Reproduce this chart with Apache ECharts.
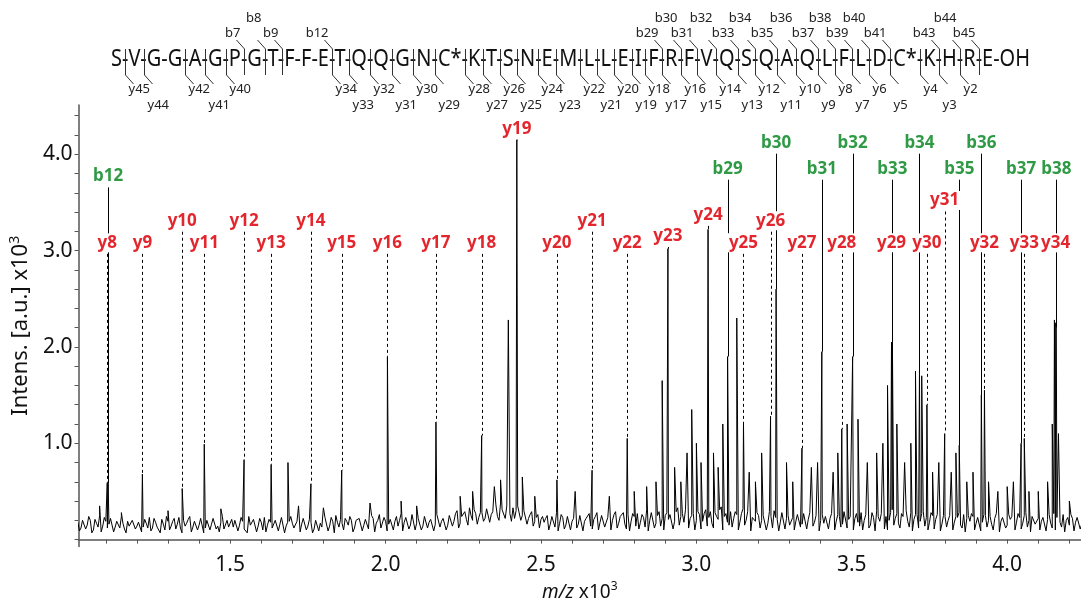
<!DOCTYPE html>
<html><head><meta charset="utf-8">
<script src="https://cdn.jsdelivr.net/npm/echarts@6/dist/echarts.min.js"></script>
<style>html,body{margin:0;padding:0;background:#fff}#c{width:1081px;height:607px}</style>
</head><body><div id="c"></div>
<script>
// ---------------- DATA ----------------
// baseline noise, sampled every 0.01 (m/z x10^3) starting at 1.01
const noiseStartMz = 1.01;
const noiseStepMz = 0.01;
const noiseIntensity = [
0.18,0.12,0.22,0.15,0.20,0.10,0.17,0.25,0.14,0.19,
0.16,0.21,0.13,0.18,0.24,0.11,0.19,0.15,0.22,0.14,
0.20,0.13,0.17,0.23,0.12,0.18,0.15,0.21,0.10,0.19,
0.14,0.22,0.16,0.12,0.20,0.17,0.24,0.13,0.18,0.15,
0.21,0.12,0.19,0.16,0.23,0.14,0.18,0.11,0.20,0.17,
0.13,0.22,0.15,0.19,0.12,0.24,0.16,0.20,0.14,0.18,
0.23,0.15,0.18,0.12,0.21,0.16,0.25,0.14,0.19,0.17,
0.12,0.20,0.16,0.23,0.14,0.18,0.11,0.22,0.17,0.15,
0.21,0.14,0.19,0.25,0.13,0.17,0.22,0.15,0.20,0.12,
0.18,0.24,0.15,0.20,0.13,0.22,0.17,0.26,0.14,0.19,
0.16,0.23,0.19,0.14,0.27,0.18,0.21,0.15,0.24,0.17,
0.20,0.14,0.25,0.18,0.22,0.16,0.28,0.19,0.23,0.15,
0.24,0.19,0.30,0.17,0.26,0.21,0.33,0.20,0.27,0.23,
0.28,0.22,0.34,0.26,0.31,0.24,0.38,0.29,0.35,0.27,
0.33,0.30,0.36,0.25,0.32,0.22,0.29,0.19,0.26,0.21,
0.18,0.25,0.16,0.22,0.28,0.17,0.23,0.15,0.26,0.19,
0.22,0.16,0.27,0.19,0.24,0.14,0.21,0.28,0.18,0.23,
0.15,0.25,0.20,0.29,0.17,0.22,0.16,0.26,0.19,0.24,
0.27,0.18,0.23,0.31,0.20,0.26,0.17,0.29,0.22,0.25,
0.21,0.28,0.19,0.33,0.24,0.18,0.30,0.22,0.27,0.20,
0.26,0.19,0.31,0.23,0.17,0.28,0.21,0.34,0.24,0.18,
0.29,0.22,0.26,0.18,0.32,0.20,0.27,0.23,0.19,0.25,
0.20,0.27,0.17,0.24,0.30,0.21,0.18,0.26,0.22,0.15,
0.23,0.19,0.28,0.16,0.25,0.21,0.30,0.18,0.24,0.20,
0.17,0.26,0.22,0.29,0.19,0.24,0.16,0.27,0.21,0.25,
0.22,0.18,0.28,0.20,0.25,0.15,0.23,0.30,0.19,0.26,
0.24,0.20,0.31,0.22,0.17,0.27,0.23,0.19,0.28,0.21,
0.26,0.19,0.29,0.23,0.18,0.25,0.21,0.28,0.16,0.24,
0.20,0.27,0.18,0.23,0.15,0.26,0.22,0.19,0.24,0.17,
0.23,0.18,0.25,0.20,0.16,0.22,0.27,0.19,0.24,0.15,
0.21,0.26,0.18,0.23,0.17,0.28,0.20,0.24,0.16,0.22,
0.19,0.25,0.21,0.17,0.27,0.23,0.18,0.26,0.20,0.15,
0.22,0.18,0.24,0.16,0.21,0.19,0.23,0.17,0.20,0.18
];
// baseline noise between the samples above (starting at 1.015, same step)
const noiseMidStartMz = 1.015;
const noiseMidIntensity = [
0.09,0.20,0.11,0.24,0.07,0.21,0.13,0.08,0.23,0.12,
0.22,0.08,0.19,0.12,0.17,0.07,0.14,0.20,0.11,0.18,
0.08,0.21,0.12,0.09,0.22,0.13,0.07,0.16,0.24,0.10,
0.19,0.11,0.23,0.07,0.14,0.21,0.08,0.19,0.10,0.22,
0.07,0.20,0.10,0.22,0.11,0.08,0.24,0.09,0.13,0.21,
0.20,0.09,0.23,0.11,0.07,0.15,0.21,0.08,0.22,0.10,
0.08,0.21,0.12,0.20,0.09,0.23,0.07,0.18,0.24,0.12,
0.19,0.08,0.22,0.10,0.21,0.07,0.20,0.09,0.13,0.23,
0.09,0.23,0.07,0.18,0.21,0.10,0.19,0.24,0.08,0.20,
0.22,0.09,0.21,0.11,0.25,0.08,0.20,0.12,0.23,0.09,
0.21,0.10,0.24,0.20,0.09,0.23,0.11,0.26,0.10,0.22,
0.10,0.24,0.12,0.21,0.09,0.26,0.13,0.22,0.10,0.25,
0.14,0.27,0.12,0.24,0.29,0.15,0.25,0.31,0.16,0.28,
0.19,0.32,0.18,0.29,0.36,0.20,0.31,0.22,0.33,0.19,
0.22,0.35,0.20,0.30,0.16,0.26,0.14,0.23,0.12,0.24,
0.22,0.10,0.24,0.13,0.09,0.26,0.11,0.24,0.10,0.22,
0.12,0.25,0.09,0.22,0.27,0.11,0.24,0.10,0.25,0.13,
0.23,0.10,0.26,0.12,0.24,0.28,0.11,0.09,0.27,0.14,
0.11,0.26,0.13,0.09,0.28,0.12,0.25,0.14,0.10,0.28,
0.26,0.11,0.29,0.15,0.27,0.31,0.12,0.25,0.10,0.29,
0.11,0.27,0.14,0.29,0.12,0.24,0.31,0.10,0.27,0.15,
0.13,0.29,0.10,0.27,0.15,0.29,0.09,0.25,0.28,0.12,
0.25,0.10,0.29,0.12,0.23,0.09,0.28,0.11,0.25,0.13,
0.10,0.26,0.13,0.27,0.11,0.28,0.14,0.25,0.09,0.26,
0.24,0.11,0.27,0.10,0.26,0.13,0.29,0.12,0.24,0.10,
0.27,0.14,0.10,0.26,0.12,0.28,0.09,0.24,0.27,0.11,
0.10,0.28,0.15,0.27,0.12,0.24,0.30,0.13,0.09,0.26,
0.12,0.27,0.14,0.10,0.28,0.11,0.26,0.09,0.25,0.13,
0.25,0.10,0.24,0.28,0.12,0.08,0.25,0.27,0.10,0.23,
0.09,0.26,0.13,0.24,0.10,0.27,0.08,0.23,0.12,0.26,
0.24,0.10,0.27,0.11,0.25,0.13,0.08,0.26,0.14,0.10,
0.23,0.09,0.26,0.12,0.10,0.24,0.13,0.08,0.23,0.26,
0.09,0.23,0.11,0.22,0.08,0.25,0.10,0.22,0.11,0.21
];
// unassigned peaks
const otherPeakMz = [1.080,1.150,1.300,1.470,1.686,1.720,1.800,1.950,2.050,2.100,2.240,2.280,2.350,2.370,2.395,2.440,2.480,2.610,2.720,2.800,2.840,2.870,2.890,2.930,2.950,2.970,2.985,3.000,3.015,3.055,3.070,3.085,3.130,3.170,3.190,3.210,3.290,3.310,3.370,3.390,3.440,3.455,3.485,3.520,3.550,3.580,3.600,3.615,3.645,3.670,3.690,3.705,3.725,3.760,3.780,3.820,3.835,3.870,3.890,3.940,3.970,4.000,4.020,4.070,4.100,4.130,4.145,4.152,4.165,4.200];
const otherPeakIntensity = [0.35,0.28,0.30,0.32,0.80,0.35,0.33,0.38,0.40,0.35,0.45,0.50,0.55,0.62,2.28,0.65,0.45,0.50,0.45,0.50,0.55,0.60,1.65,0.75,0.60,0.90,1.35,1.00,0.80,0.90,0.75,1.20,2.30,0.70,0.60,0.90,0.80,0.60,0.75,0.80,0.70,0.90,1.20,1.25,0.80,0.90,1.00,1.60,1.20,0.80,1.00,1.75,1.70,0.70,0.80,0.70,0.90,0.60,0.70,0.60,0.50,0.55,0.60,0.50,0.50,0.60,1.20,2.28,1.10,0.40];
// assigned y ions
const yIonNames = ['y8','y9','y10','y11','y12','y13','y14','y15','y16','y17','y18','y19','y20','y21','y22','y23','y24','y25','y26','y27','y28','y29','y30','y31','y32','y33','y34'];
const yIonMz = [1.1045,1.2176,1.3457,1.4167,1.5448,1.6318,1.7599,1.8589,2.0060,2.1621,2.3092,2.4223,2.5513,2.6644,2.7775,2.9085,3.0376,3.1516,3.2386,3.3397,3.4678,3.6278,3.7418,3.7989,3.9269,4.0550,4.1560];
const yIonIntensity = [0.59,0.68,0.53,0.99,0.83,0.78,0.58,0.72,1.90,1.22,1.08,4.15,0.62,0.72,1.05,3.02,3.22,1.20,1.28,0.95,1.15,2.05,1.40,1.10,1.55,1.05,2.25];
const yIonLabelLevel = [3.08,3.08,3.31,3.08,3.31,3.08,3.31,3.08,3.08,3.08,3.08,4.26,3.08,3.31,3.08,3.15,3.37,3.08,3.31,3.08,3.08,3.08,3.08,3.52,3.08,3.08,3.08];
// assigned b ions
const bIonNames = ['b12','b29','b30','b31','b32','b33','b34','b35','b36','b37','b38'];
const bIonMz = [1.1075,3.1004,3.2565,3.4036,3.5027,3.6307,3.7178,3.8458,3.9169,4.0449,4.1580];
const bIonIntensity = [0.58,1.90,2.60,1.95,1.90,2.05,1.75,0.98,1.50,1.00,2.20];
const bIonLabelLevel = [3.77,3.85,4.12,3.85,4.12,3.85,4.12,3.85,4.12,3.85,3.85];
// axes
const xTickLabels = [1.5,2.0,2.5,3.0,3.5,4.0];
const xTickMarks = [1.1,1.2,1.3,1.4,1.5,1.6,1.7,1.8,1.9,2.0,2.1,2.2,2.3,2.4,2.5,2.6,2.7,2.8,2.9,3.0,3.1,3.2,3.3,3.4,3.5,3.6,3.7,3.8,3.9,4.0,4.1,4.2];
const yTickLabels = [1.0,2.0,3.0,4.0];
const yTickMarks = [0,0.2,0.4,0.6,0.8,1.0,1.2,1.4,1.6,1.8,2.0,2.2,2.4,2.6,2.8,3.0,3.2,3.4,3.6,3.8,4.0,4.2,4.4];
// peptide sequence and observed fragment sites
const peptide = ['S','V','G','G','A','G','P','G','T','F','F','E','T','Q','Q','G','N','C*','K','T','S','N','E','M','L','L','E','I','F','R','F','V','Q','S','Q','A','Q','L','F','L','D','C*','K','H','R','E'];
const bObserved = [7,8,9,12,29,30,31,32,33,34,35,36,37,38,39,40,41,43,44,45];
const yObserved = [45,44,42,41,40,34,33,32,31,30,29,28,27,26,25,24,23,22,21,20,19,18,17,16,15,14,13,12,11,10,9,8,7,6,5,4,3,2];
const bUpperRow = [8,30,32,34,36,38,40,44];
const yLowerRow = [44,41,33,31,29,27,25,23,21,19,17,15,13,11,9,7,5,3];

// ---------------- BUILD ----------------
const spectrum = [];
noiseIntensity.forEach((v, i) => spectrum.push([+(noiseStartMz + i * noiseStepMz).toFixed(3), v]));
noiseMidIntensity.forEach((v, i) => spectrum.push([+(noiseMidStartMz + i * noiseStepMz).toFixed(3), v]));
otherPeakMz.forEach((m, i) => spectrum.push([m, otherPeakIntensity[i]]));
yIonMz.forEach((m, i) => spectrum.push([m, yIonIntensity[i]]));
bIonMz.forEach((m, i) => spectrum.push([m, bIonIntensity[i]]));
spectrum.sort((a, b) => a[0] - b[0]);

const ions = [];
bIonNames.forEach((n, i) => ions.push({ name: n, value: [bIonMz[i], bIonLabelLevel[i], bIonIntensity[i], 0] }));
yIonNames.forEach((n, i) => ions.push({ name: n, value: [yIonMz[i], yIonLabelLevel[i], yIonIntensity[i], 1] }));

const RED = '#e3262d', GREEN = '#2f9a45';
const FONT = '"Noto Sans", "Open Sans", sans-serif';

const chart = echarts.init(document.getElementById('c'), null, { renderer: 'canvas' });

// peptide annotation layout
const ctx = document.createElement('canvas').getContext('2d');
const pepFontSize = 24;
ctx.font = pepFontSize + 'px "Noto Sans"';
const pepText = peptide.join('-') + '-OH';
const fullW = ctx.measureText(pepText).width;
const pepLeft = 111, pepRight = 1030, pepY = 59;
const sx = (pepRight - pepLeft) / fullW;
const hyW = ctx.measureText('-').width;
function siteX(i) {
  return pepLeft + sx * (ctx.measureText(peptide.slice(0, i).join('-')).width + hyW / 2);
}
const graphics = [{
  type: 'text', x: pepLeft, y: pepY, scaleX: sx, silent: true,
  style: { text: pepText, font: pepFontSize + 'px ' + FONT, fill: '#111', verticalAlign: 'middle', align: 'left' }
}];
const mk = '#333';
for (let i = 1; i < peptide.length; i++) {
  const hasB = bObserved.includes(i);
  const yn = peptide.length - i;
  const hasY = yObserved.includes(yn);
  if (!hasB && !hasY) continue;
  const x = Math.round(siteX(i)) + 0.5;
  graphics.push({ type: 'line', silent: true, shape: { x1: x, y1: 49, x2: x, y2: 75 }, style: { stroke: mk, lineWidth: 1 } });
  if (hasB) {
    graphics.push({ type: 'line', silent: true, shape: { x1: x - 8, y1: 40, x2: x, y2: 49 }, style: { stroke: mk, lineWidth: 1 } });
    graphics.push({ type: 'text', silent: true, x: x - 4, y: bUpperRow.includes(i) ? 18 : 33,
      style: { text: 'b' + i, font: '13px ' + FONT, fill: '#222', align: 'right', verticalAlign: 'middle' } });
  }
  if (hasY) {
    graphics.push({ type: 'line', silent: true, shape: { x1: x, y1: 75, x2: x + 8, y2: 84 }, style: { stroke: mk, lineWidth: 1 } });
    graphics.push({ type: 'text', silent: true, x: x + 3, y: yLowerRow.includes(yn) ? 105 : 89,
      style: { text: 'y' + yn, font: '13px ' + FONT, fill: '#222', align: 'left', verticalAlign: 'middle' } });
  }
}

const axisLineStyle = { color: '#555', width: 1.5 };
const option = {
  animation: false,
  backgroundColor: '#fff',
  grid: { left: 76, right: 0, top: 105, bottom: 54, containLabel: false },
  xAxis: {
    type: 'value', min: 1.0122, max: 4.2375,
    axisLine: { show: true, lineStyle: axisLineStyle },
    axisTick: { show: true, customValues: xTickMarks, length: 4, lineStyle: { color: '#555' } },
    axisLabel: { customValues: xTickLabels, formatter: v => v.toFixed(1), fontSize: 21, color: '#111', fontFamily: FONT, margin: 8 },
    splitLine: { show: false },
    name: '{i|m/z} x10{sup|3}', nameLocation: 'middle', nameGap: 34,
    nameTextStyle: { fontSize: 19, color: '#111', fontFamily: FONT,
      rich: { i: { fontSize: 19, fontStyle: 'italic', fontFamily: FONT, color: '#111' },
              sup: { fontSize: 12, fontFamily: FONT, color: '#111', padding: [0, 0, 12, 0] } } }
  },
  yAxis: {
    type: 'value', min: -0.0716, max: 4.511,
    axisLine: { show: true, lineStyle: axisLineStyle },
    axisTick: { show: true, customValues: yTickMarks, length: 4, lineStyle: { color: '#555' } },
    axisLabel: { customValues: yTickLabels, formatter: v => v.toFixed(1), fontSize: 21, color: '#111', fontFamily: FONT, margin: 6 },
    splitLine: { show: false },
    name: 'Intens. [a.u.] x10{sup|3}', nameLocation: 'middle', nameGap: 40, nameRotate: 90,
    nameTextStyle: { fontSize: 22, color: '#111', fontFamily: FONT,
      rich: { sup: { fontSize: 14, fontFamily: FONT, color: '#111', padding: [0, 0, 12, 0] } } }
  },
  graphic: graphics,
  series: [
    {
      type: 'line', name: 'spectrum', data: spectrum, showSymbol: false, symbol: 'none',
      sampling: 'none', clip: true, silent: true, z: 2,
      lineStyle: { color: '#000', width: 1 }
    },
    {
      type: 'custom', name: 'assignmentLines', coordinateSystem: 'cartesian2d', data: ions, z: 3, silent: true,
      encode: { x: 0, y: 1 },
      renderItem: function (params, api) {
        const top = api.coord([api.value(0), api.value(1)]);
        const bot = api.coord([api.value(0), api.value(2)]);
        const dashed = api.value(3) === 1;
        const x = Math.round(top[0]) + 0.5;
        return { type: 'line', shape: { x1: x, y1: top[1] + 11, x2: x, y2: bot[1] },
          style: { stroke: '#000', lineWidth: 1, lineDash: dashed ? [3, 3] : null } };
      }
    },
    {
      type: 'custom', name: 'assignmentLabels', coordinateSystem: 'cartesian2d', data: ions, z: 5, silent: true,
      encode: { x: 0, y: 1 }, clip: false,
      renderItem: function (params, api) {
        const p = api.coord([api.value(0), api.value(1)]);
        const isY = api.value(3) === 1;
        return { type: 'text', x: p[0], y: p[1],
          style: { text: ions[params.dataIndex].name, fill: isY ? RED : GREEN, font: 'bold 17px ' + FONT,
            align: 'center', verticalAlign: 'middle', backgroundColor: '#fff', padding: [1, 1] } };
      }
    }
  ]
};
chart.setOption(option);
</script>
</body></html>
